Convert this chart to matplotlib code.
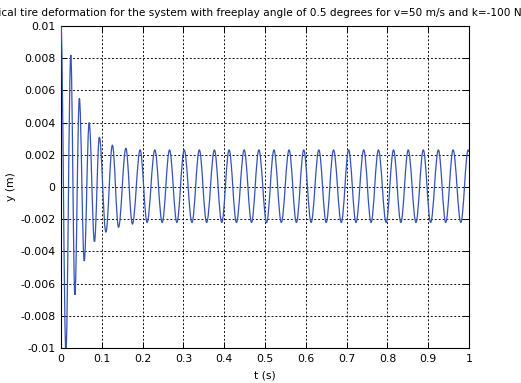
import matplotlib
matplotlib.use("Agg")
import matplotlib.pyplot as plt
from matplotlib.ticker import FixedLocator, FixedFormatter
from matplotlib.path import Path
from matplotlib.patches import PathPatch

# Extrema of the signal (time in s, deformation in m)
t_ext = [0.000, 0.012, 0.024, 0.034, 0.045, 0.057, 0.069, 0.082, 0.094, 0.110,
         0.126, 0.141, 0.159, 0.175, 0.194, 0.211,
         0.230, 0.248, 0.266, 0.284, 0.302, 0.321, 0.339, 0.357, 0.376, 0.394,
         0.412, 0.430, 0.449, 0.467, 0.485, 0.504, 0.522, 0.540, 0.559, 0.577,
         0.595, 0.613, 0.632, 0.650, 0.668, 0.687, 0.705, 0.723, 0.742, 0.760,
         0.778, 0.797, 0.815, 0.833, 0.851, 0.870, 0.888, 0.906, 0.925, 0.943,
         0.961, 0.980, 0.998, 1.000]
y_ext = [0.0100, -0.0103, 0.0082, -0.0067, 0.0055, -0.0046, 0.0040, -0.0034, 0.0031, -0.0028,
         0.0026, -0.0025, 0.0024, -0.0023, 0.0023, -0.0022,
         0.0023, -0.0022, 0.0023, -0.0022, 0.0023, -0.0022, 0.0023, -0.0022, 0.0023, -0.0022,
         0.0023, -0.0022, 0.0023, -0.0022, 0.0023, -0.0022, 0.0023, -0.0022, 0.0023, -0.0022,
         0.0023, -0.0022, 0.0023, -0.0022, 0.0023, -0.0022, 0.0023, -0.0022, 0.0023, -0.0022,
         0.0023, -0.0022, 0.0023, -0.0022, 0.0023, -0.0022, 0.0023, -0.0022, 0.0023, -0.0022,
         0.0023, -0.0022, 0.0023, 0.0022]

x_ticks = [0, 0.1, 0.2, 0.3, 0.4, 0.5, 0.6, 0.7, 0.8, 0.9, 1.0]
x_labels = ["0", "0.1", "0.2", "0.3", "0.4", "0.5", "0.6", "0.7", "0.8", "0.9", "1"]
y_ticks = [-0.01, -0.008, -0.006, -0.004, -0.002, 0, 0.002, 0.004, 0.006, 0.008, 0.01]
y_labels = ["-0.01", "-0.008", "-0.006", "-0.004", "-0.002", "0",
            "0.002", "0.004", "0.006", "0.008", "0.01"]

title = ("Vertical tire deformation for the system with freeplay angle of 0.5 degrees "
         "for v=50 m/s and k=-100 Nm/rad")

plt.rcParams['font.family'] = ['DejaVu Sans']
FS = 7.8

fig = plt.figure(figsize=(5.21, 3.83), dpi=100)
ax = fig.add_axes([61/521, 1 - 348/383, (469-61)/521, (348-26)/383])

# smooth curve through the read extrema (horizontal tangents at each extremum)
verts = [(t_ext[0], y_ext[0])]
codes = [Path.MOVETO]
k = 0.364
for i in range(1, len(t_ext)):
    t0, y0 = t_ext[i-1], y_ext[i-1]
    t1, y1 = t_ext[i], y_ext[i]
    dt = t1 - t0
    verts += [(t0 + k*dt, y0), (t1 - k*dt, y1), (t1, y1)]
    codes += [Path.CURVE4, Path.CURVE4, Path.CURVE4]
patch = PathPatch(Path(verts, codes), facecolor='none', edgecolor='#3552b8',
                  lw=0.9, transform=ax.transData, zorder=3)
patch.set_clip_path(ax.patch)
ax.add_patch(patch)

ax.set_xlim(0, 1)
ax.set_ylim(-0.01, 0.01)
ax.xaxis.set_major_locator(FixedLocator(x_ticks))
ax.xaxis.set_major_formatter(FixedFormatter(x_labels))
ax.yaxis.set_major_locator(FixedLocator(y_ticks))
ax.yaxis.set_major_formatter(FixedFormatter(y_labels))

ax.tick_params(direction='in', length=4, width=0.7, top=True, right=True,
               labelsize=FS, pad=4, colors='black')
ax.grid(True, color='#111111', linestyle=(0, (2, 2)), lw=0.7)
for s in ax.spines.values():
    s.set_linewidth(0.8)
    s.set_color('black')

ax.set_xlabel("t (s)", fontsize=FS, labelpad=5)
ax.set_ylabel("y (m)", fontsize=FS, labelpad=3)
ax.set_title(title, fontsize=7.6, pad=7)

fig.savefig("out.png", dpi=100)
